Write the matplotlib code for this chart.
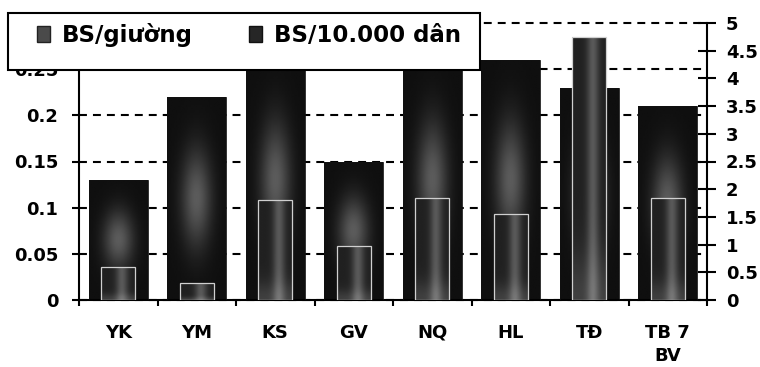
import matplotlib
matplotlib.use("Agg")
import matplotlib.pyplot as plt
import numpy as np
from matplotlib.patches import Rectangle, Patch

# Hospitals and the two staffing ratios
hospitals = ["YK", "YM", "KS", "GV", "NQ", "HL", "TĐ", "TB 7\nBV"]
bs_per_bed = [0.13, 0.22, 0.26, 0.15, 0.26, 0.26, 0.23, 0.21]        # BS/giường (left axis)
bs_per_10000 = [0.6, 0.3, 1.8, 0.98, 1.85, 1.55, 4.75, 1.85]          # BS/10.000 dân (right axis)
left_ticks = [0, 0.05, 0.1, 0.15, 0.2, 0.25, 0.3]
right_ticks = [0, 0.5, 1, 1.5, 2, 2.5, 3, 3.5, 4, 4.5, 5]

plt.rcParams["font.family"] = ["DejaVu Sans"]
plt.rcParams["font.weight"] = "bold"

W, H = 760, 367
fig = plt.figure(figsize=(W / 100, H / 100), dpi=100)
fig.patch.set_facecolor("white")
ax = fig.add_axes([79 / W, 67 / H, 628 / W, 277 / H])
ax2 = ax.twinx()

x = np.arange(len(hospitals))

# Outline bars act as clip paths for the shaded fills
wide = ax.bar(x, bs_per_bed, width=0.75, facecolor="none", edgecolor="#111111",
              linewidth=0.6, zorder=3)
narrow = ax2.bar(x, bs_per_10000, width=0.43, facecolor="none", edgecolor="#d0d0d0",
                 linewidth=0.9, zorder=3)

ny, nx = 80, 40
yy, xx = np.mgrid[0:1:ny * 1j, 0:1:nx * 1j]
wide_shade = 0.06 + 0.30 * np.exp(-((xx - 0.5) / 0.26) ** 2 - ((yy - 0.5) / 0.24) ** 2)
narrow_shade = (0.13 + 0.22 * np.exp(-((xx - 0.62) / 0.18) ** 2)
                + 0.12 * np.exp(-(yy / 0.18) ** 2))

def shade(axis, bars, field):
    for b in bars:
        x0, y0 = b.get_x(), b.get_y()
        im = axis.imshow(field, extent=[x0, x0 + b.get_width(), y0, y0 + b.get_height()],
                         origin="lower", cmap="gray", vmin=0, vmax=1, aspect="auto",
                         interpolation="bilinear", zorder=2)
        im.set_clip_path(b)

shade(ax, wide, wide_shade)
shade(ax2, narrow, narrow_shade)

# Axes limits and ticks
ax.set_xlim(-0.5, len(hospitals) - 0.5)
ax.set_ylim(0, 0.3)
ax2.set_ylim(0, 5)

ax.set_yticks(left_ticks)
ax.set_yticklabels([f"{v:g}" for v in left_ticks])
ax2.set_yticks(right_ticks)
ax2.set_yticklabels([f"{v:g}" for v in right_ticks])

ax.set_xticks(np.arange(-0.5, len(hospitals), 1.0))
ax.set_xticklabels([])
ax.set_xticks(x, minor=True)
ax.set_xticklabels(hospitals, minor=True, fontsize=13, fontweight="bold", linespacing=1.35)

ax.tick_params(axis="y", direction="out", length=5, width=1.5, pad=10, labelsize=13)
ax2.tick_params(axis="y", direction="inout", length=13, width=1.5, pad=7, labelsize=13)
ax.tick_params(axis="x", which="major", direction="out", length=4, width=1.5)
ax.tick_params(axis="x", which="minor", length=0, pad=17)

# Dashed horizontal gridlines on the left scale
ax.set_axisbelow(True)
ax.yaxis.grid(True, linestyle=(0, (3.8, 2.9)), color="black", linewidth=1.5)
for gl in ax.get_ygridlines():
    gl.set_clip_on(False)
ax.xaxis.grid(False)

for s in ["top", "right"]:
    ax.spines[s].set_visible(False)
for s in ["top", "left", "bottom"]:
    ax2.spines[s].set_visible(False)
ax.spines["left"].set_linewidth(1.5)
ax.spines["bottom"].set_linewidth(1.5)
ax2.spines["right"].set_linewidth(1.5)

# Legend box sitting over the upper left of the plot
frame = Rectangle((8 / W, (H - 70) / H), 472 / W, 57 / H, transform=fig.transFigure,
                  facecolor="white", edgecolor="black", linewidth=1.5, zorder=4)
fig.add_artist(frame)
handles = [Patch(facecolor="#4a4a4a", edgecolor="#222222"),
           Patch(facecolor="#262626", edgecolor="#111111")]
leg = fig.legend(handles, ["BS/giường", "BS/10.000 dân"], loc="center left",
                 bbox_to_anchor=(37 / W, (H - 35) / H), ncol=2, frameon=False,
                 borderpad=0, borderaxespad=0, handlelength=0.58, handleheight=0.7,
                 handletextpad=0.5, columnspacing=2.45,
                 prop={"weight": "bold", "size": 16.5})
leg.set_zorder(5)

fig.savefig("out.png", dpi=100, facecolor="white")
